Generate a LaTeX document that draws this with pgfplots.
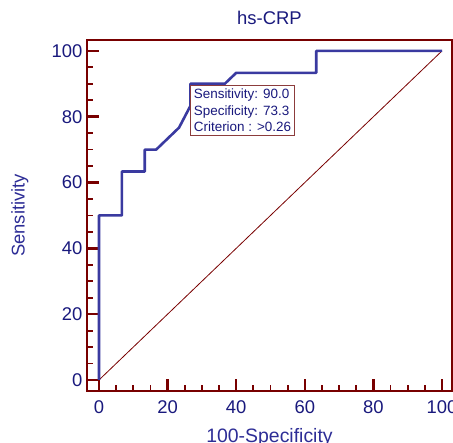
\documentclass[border=0pt]{standalone}
\usepackage{fontspec}
\setmainfont{Liberation Sans}
\usepackage{pgfplots}
\pgfplotsset{compat=1.18}
\definecolor{navytxt}{RGB}{25,25,125}
\definecolor{labblue}{RGB}{45,45,150}
\definecolor{curveblue}{RGB}{58,58,160}
\definecolor{frame}{RGB}{120,0,0}
\definecolor{boxred}{RGB}{140,60,60}

\begin{document}
\begin{tikzpicture}
\begin{axis}[
  at={(87bp,52bp)}, anchor=south west,
  scale only axis, width=365bp, height=351bp,
  xmin=-3.5, xmax=102.9, ymin=-3.35, ymax=103.3,
  xtick={0,20,...,100}, ytick={0,20,...,100},
  minor tick num=3,
  tick pos=left, tick align=inside,
  major tick length=11.5bp, minor tick length=6bp,
  every major tick/.style={line width=2.4bp, frame},
  every minor tick/.style={line width=1.8bp, frame},
  axis line style={line width=2.7bp, frame},
  /pgf/number format/assume math mode=true,
  tick label style={font=\fontsize{18.5}{18.5}\selectfont, text=navytxt},
  xticklabel style={yshift=-6bp},
  yticklabel style={xshift=-1bp},
  title={hs-CRP},
  title style={font=\fontsize{18.5}{18.5}\selectfont, text=navytxt,
    at={(axis description cs:0.5,1)}, anchor=base, yshift=10bp},
  xlabel={100-Specificity},
  xlabel style={font=\fontsize{19.5}{19.5}\selectfont, text=labblue,
    at={(axis description cs:0.5,-0.146)}, anchor=base},
  ylabel={Sensitivity},
  ylabel style={font=\fontsize{18.5}{18.5}\selectfont, text=labblue,
    at={(axis description cs:-0.184,0.5)}, anchor=center, rotate=0},
  clip=false,
]
\addplot[frame, line width=0.8bp] coordinates {(0,0)(100,100)};
\addplot[curveblue, line width=2.6bp, line join=round] coordinates {
  (0,0)(0,50)(6.67,50)(6.67,63.33)(13.33,63.33)(13.33,70)(16.67,70)
  (23.33,76.67)(26.67,83.33)(26.67,90)(36.67,90)(40,93.33)
  (63.33,93.33)(63.33,100)(100,100)};
\node[draw=boxred, line width=1.2bp, fill=white, anchor=north west,
  align=left, inner xsep=3bp, inner ysep=3.5bp, text=navytxt,
  font=\fontsize{13.5}{16.5}\selectfont]
  at (axis cs:26.6,89.6)
  {Sensitivity: 90.0\\Specificity: 73.3\\Criterion : >0.26};
\end{axis}
\pgfresetboundingbox
\useasboundingbox (0,0) rectangle (453bp,443bp);
\end{tikzpicture}
\end{document}
